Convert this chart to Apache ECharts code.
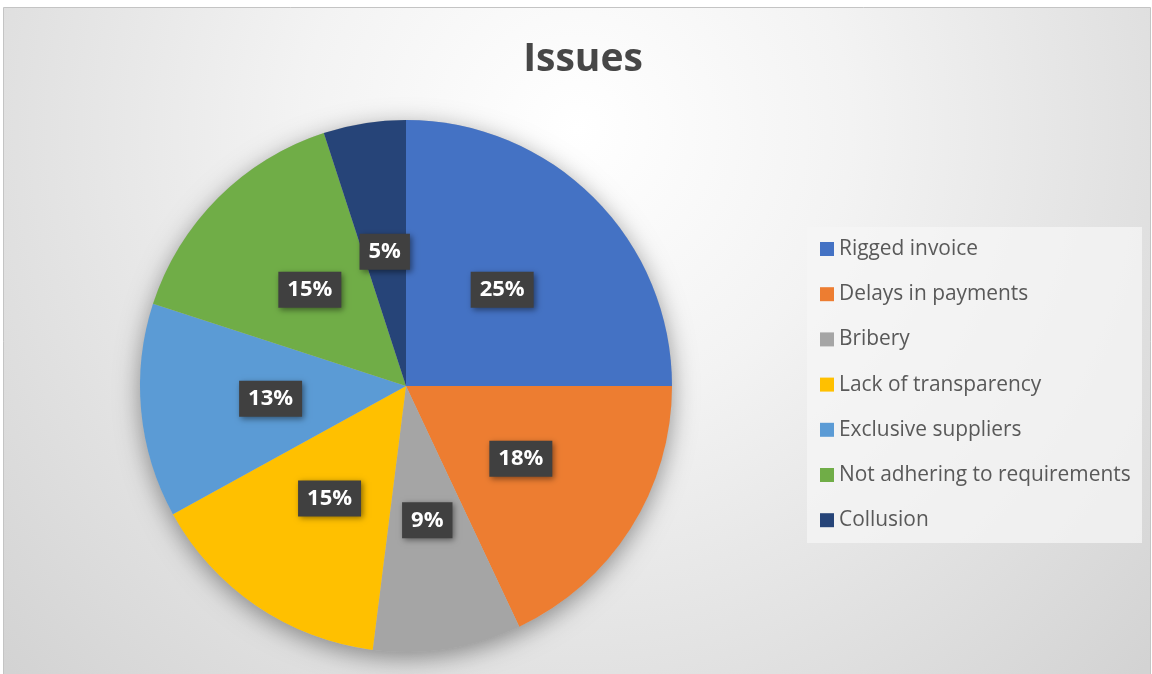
<!DOCTYPE html>
<html>
<head>
<meta charset="utf-8">
<script src="https://cdn.jsdelivr.net/npm/echarts@6/dist/echarts.min.js"></script>
<style>
html,body{margin:0;padding:0;background:#ffffff;}
#main{width:1152px;height:674px;}
</style>
</head>
<body>
<div id="main"></div>
<script>
const titleText = 'Issues';
const categories = ['Rigged invoice','Delays in payments','Bribery','Lack of transparency','Exclusive suppliers','Not adhering to requirements','Collusion'];
const values = [25, 18, 9, 15, 13, 15, 5];
const colors = ['#4472C4','#ED7D31','#A5A5A5','#FFC000','#5B9BD5','#70AD47','#264478'];

const chart = echarts.init(document.getElementById('main'));
const pieCenter = [406, 386];
const pieRadius = 266;

chart.setOption({
  backgroundColor: '#ffffff',
  animation: false,
  graphic: [
    {
      type: 'rect', z: -10, silent: true,
      shape: {x: 3.5, y: 7.5, width: 1147, height: 680},
      style: {
        fill: {type: 'radial', x: 0.5, y: 0.18, r: 1.15,
          colorStops: [{offset: 0, color: '#ffffff'}, {offset: 0.35, color: '#f3f3f3'}, {offset: 1, color: '#d3d3d3'}]},
        stroke: '#c4c4c4', lineWidth: 1
      }
    },
    {
      type: 'rect', z: -5, silent: true,
      shape: {x: 807, y: 227, width: 335, height: 316},
      style: {fill: 'rgba(245,245,245,0.75)'}
    }
  ],
  title: {
    text: titleText,
    left: 578,
    textAlign: 'center',
    top: 35,
    textStyle: {fontFamily: 'Open Sans', fontWeight: 'bold', fontSize: 39, color: '#474747'}
  },
  legend: {
    orient: 'vertical',
    left: 807,
    top: 227,
    padding: [10, 0, 0, 13],
    data: categories,
    icon: 'rect',
    itemWidth: 14,
    itemHeight: 14,
    itemGap: 21.2,
    itemTextGap: 5,
    selectedMode: false,
    textStyle: {fontFamily: 'Open Sans', fontSize: 20.9, color: '#595959', lineHeight: 24}
  },
  series: [
    {
      type: 'pie',
      silent: true,
      center: pieCenter,
      radius: pieRadius,
      z: 1,
      label: {show: false},
      labelLine: {show: false},
      itemStyle: {color: '#bbbbbb', shadowBlur: 24, shadowColor: 'rgba(0,0,0,0.4)', shadowOffsetY: 6},
      data: [{name: '_bg', value: 1}]
    },
    {
      type: 'pie',
      center: pieCenter,
      radius: pieRadius,
      startAngle: 90,
      clockwise: true,
      z: 2,
      color: colors,
      label: {
        show: true,
        position: 'inside',
        formatter: '{c}%',
        fontFamily: 'Open Sans',
        fontWeight: 'bold',
        fontSize: 22,
        color: '#ffffff',
        backgroundColor: '#404040',
        padding: [7, 9, 7, 9],
        shadowBlur: 6,
        shadowColor: 'rgba(0,0,0,0.45)',
        shadowOffsetX: 2,
        shadowOffsetY: 2
      },
      labelLine: {show: false},
      emphasis: {disabled: true},
      data: categories.map((n, i) => ({name: n, value: values[i]}))
    }
  ]
});
</script>
</body>
</html>
